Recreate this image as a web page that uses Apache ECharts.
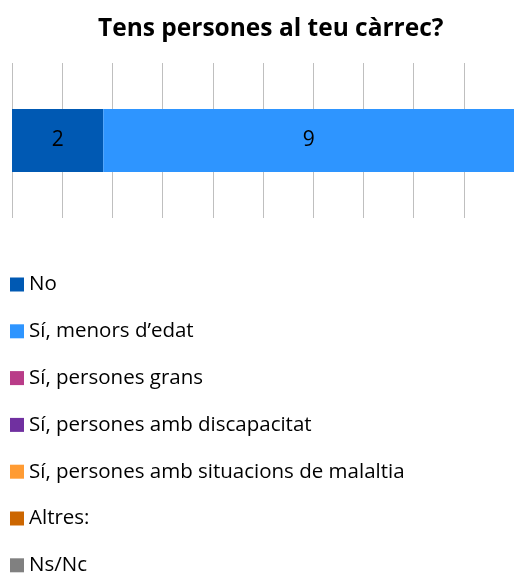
<!DOCTYPE html>
<html>
<head>
<meta charset="utf-8">
<script src="https://cdn.jsdelivr.net/npm/echarts@6/dist/echarts.min.js"></script>
<style>
html,body{margin:0;padding:0;background:#fff;}
#chart{width:514px;height:573px;}
</style>
</head>
<body>
<div id="chart"></div>
<script>
var title = 'Tens persones al teu càrrec?';
var categories = [''];
var seriesNames = ['No', 'Sí, menors d\u2019edat', 'Sí, persones grans', 'Sí, persones amb discapacitat', 'Sí, persones amb situacions de malaltia', 'Altres:', 'Ns/Nc'];
var seriesValues = [2, 9, 0, 0, 0, 0, 0];
var seriesColors = ['#0059B3', '#2E95FF', '#B93C88', '#7030A0', '#FF9B33', '#CC6600', '#808080'];
var axisTicks = [0, 10, 20, 30, 40, 50, 60, 70, 80, 90, 100];

var FONT = 'Open Sans';
var total = seriesValues.reduce(function(a, b){ return a + b; }, 0);

var series = seriesNames.map(function(name, i){
  return {
    name: name,
    type: 'bar',
    stack: 'total',
    barWidth: 63,
    itemStyle: { color: seriesColors[i] },
    label: {
      show: seriesValues[i] > 0,
      position: 'inside',
      color: '#000',
      fontFamily: FONT,
      fontSize: 21,
      formatter: function(){ return String(seriesValues[i]); }
    },
    data: [seriesValues[i] / total * 100]
  };
});

var chart = echarts.init(document.getElementById('chart'), null, {renderer: 'canvas'});
chart.setOption({
  animation: false,
  backgroundColor: '#fff',
  title: {
    text: title,
    left: 93,
    top: 12,
    textStyle: { fontFamily: FONT, fontWeight: 'bold', fontSize: 24.5, color: '#000' }
  },
  grid: { left: 12, top: 63, width: 504, height: 155, containLabel: false },
  xAxis: {
    type: 'value',
    min: axisTicks[0],
    max: axisTicks[axisTicks.length - 1],
    interval: axisTicks[1] - axisTicks[0],
    axisLine: { show: false },
    axisTick: { show: false },
    axisLabel: { show: false },
    splitLine: { show: true, lineStyle: { color: '#BFBFBF', width: 1 } }
  },
  yAxis: {
    type: 'category',
    data: categories,
    axisLine: { show: false },
    axisTick: { show: false },
    axisLabel: { show: false }
  },
  legend: {
    orient: 'vertical',
    left: 5,
    top: 269,
    height: 320,
    icon: 'rect',
    itemWidth: 14,
    itemHeight: 14,
    itemGap: 25.8,
    selectedMode: false,
    data: seriesNames,
    textStyle: { fontFamily: FONT, fontSize: 20.5, color: '#000', lineHeight: 20 }
  },
  series: series
});
</script>
</body>
</html>
